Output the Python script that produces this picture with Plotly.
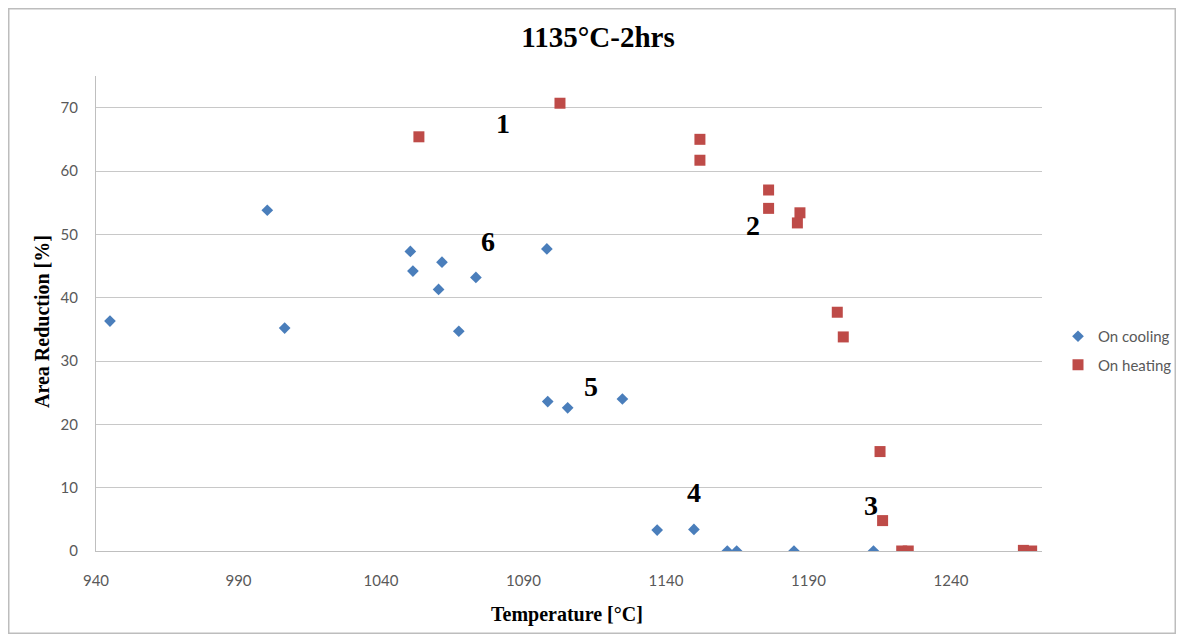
import plotly.graph_objects as go

# On cooling (blue diamonds)
cool_temp = [944.9, 1000.1, 1006.2, 1050.3, 1051.2, 1061.4, 1060.2, 1067.3, 1073.3,
             1098.2, 1098.5, 1105.5, 1124.7, 1136.9, 1149.8, 1161.5, 1164.8, 1184.9, 1212.8]
cool_ar = [36.3, 53.8, 35.2, 47.3, 44.2, 45.6, 41.3, 34.7, 43.2,
           47.7, 23.6, 22.6, 24.0, 3.3, 3.4, 0.0, 0.0, 0.0, 0.0]

# On heating (red squares)
heat_temp = [1053.3, 1102.8, 1151.9, 1151.9, 1176.0, 1176.0, 1187.0, 1186.1, 1200.1,
             1202.2, 1215.1, 1216.0, 1222.7, 1225.0, 1265.4, 1268.3]
heat_ar = [65.4, 70.7, 65.0, 61.7, 57.0, 54.1, 53.4, 51.8, 37.7,
           33.8, 15.7, 4.8, 0.0, 0.0, 0.1, 0.0]

# Region labels
label_text = ["1", "2", "3", "4", "5", "6"]
label_x = [1082.8, 1170.4, 1211.8, 1149.9, 1113.7, 1077.6]
label_y = [67.5, 51.4, 7.2, 9.3, 25.9, 48.9]

x_ticks = [940, 990, 1040, 1090, 1140, 1190, 1240]
y_ticks = [0, 10, 20, 30, 40, 50, 60, 70]

W, H = 1168, 626
ML, MR, MT, MB = 88, 134, 68, 83
PW, PH = W - ML - MR, H - MT - MB
OFF = 8  # page body margin


def px(page_x):
    return (page_x - OFF - ML) / PW


def py(page_y):
    return (H - MB - (page_y - OFF)) / PH


fig = go.Figure()
fig.add_trace(go.Scatter(
    x=cool_temp, y=cool_ar, mode="markers", name="On cooling", legendgroup="c",
    marker=dict(symbol="diamond", size=9, color="#4A7EBB"),
))
fig.add_trace(go.Scatter(
    x=heat_temp, y=heat_ar, mode="markers", name="On heating", legendgroup="h",
    marker=dict(symbol="square", size=11, color="#BE4B48"),
))

for t, x, y in zip(label_text, label_x, label_y):
    fig.add_annotation(x=x, y=y, text="<b>" + t + "</b>", showarrow=False,
                       font=dict(family="Liberation Serif", size=28, color="black"))

# Axis titles
fig.add_annotation(xref="paper", yref="paper", x=px(567), y=py(614),
                   xanchor="center", yanchor="middle",
                   text="<b>Temperature [°C]</b>", showarrow=False,
                   font=dict(family="Liberation Serif", size=20, color="black"))
fig.add_annotation(xref="paper", yref="paper", x=px(42), y=py(322), textangle=-90,
                   xanchor="center", yanchor="middle",
                   text="<b>Area Reduction [%]</b>", showarrow=False,
                   font=dict(family="Liberation Serif", size=20, color="black"))

fig.update_layout(
    width=W, height=H,
    paper_bgcolor="white", plot_bgcolor="white",
    margin=dict(l=ML, r=MR, t=MT, b=MB, autoexpand=False),
    title=dict(text="<b>1135°C-2hrs</b>", x=(598 - OFF) / W, xanchor="center",
               y=1 - (37 - OFF) / H, yanchor="middle",
               font=dict(family="Liberation Serif", size=29, color="black")),
    xaxis=dict(range=[940, 940 + PW / 2.85], tickvals=x_ticks, showgrid=False, zeroline=False,
               showline=True, linecolor="#BFBFBF", linewidth=1,
               ticks="outside", ticklen=16, tickcolor="rgba(0,0,0,0)",
               tickfont=dict(family="Lato", size=15, color="#595959")),
    yaxis=dict(range=[0, 75], tickvals=y_ticks, showgrid=True, gridcolor="#C8C8C8",
               zeroline=False, showline=True, linecolor="#BFBFBF", linewidth=1,
               ticks="outside", ticklen=14, tickcolor="rgba(0,0,0,0)",
               tickfont=dict(family="Lato", size=15, color="#595959")),
    legend=dict(x=px(1058), xanchor="left", y=py(320), yanchor="top",
                font=dict(family="Lato", size=15, color="#595959"),
                tracegroupgap=6, bgcolor="rgba(0,0,0,0)"),
    showlegend=True,
)

# Outer chart border
fig.add_shape(type="rect", xref="paper", yref="paper",
              x0=(0.5 - ML) / PW, x1=(W - 0.5 - ML) / PW,
              y0=(H - MB - (H - 0.5)) / PH, y1=(H - MB - 0.5) / PH,
              line=dict(color="#BDBDBD", width=2), fillcolor="rgba(0,0,0,0)", layer="below")

fig.write_html("out.html")
